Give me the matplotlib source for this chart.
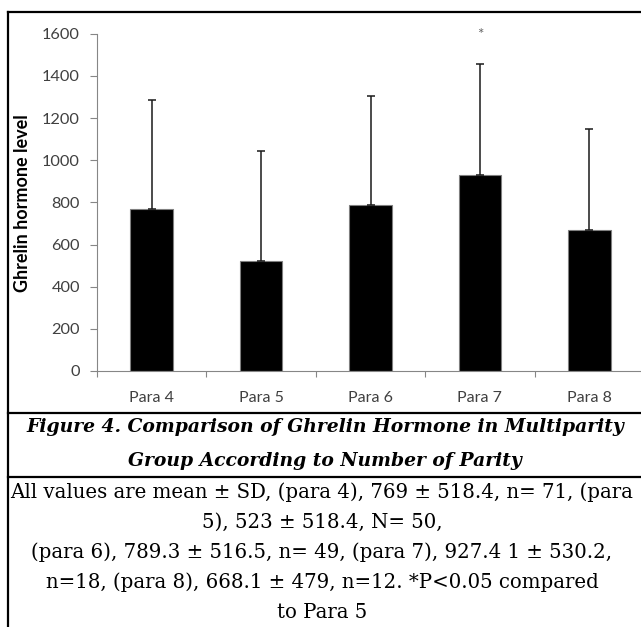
import matplotlib
matplotlib.use("Agg")
import matplotlib.pyplot as plt
from matplotlib.lines import Line2D
import numpy as np

categories = ["Para 4", "Para 5", "Para 6", "Para 7", "Para 8"]
means = [769, 523, 789.3, 927.4, 668.1]
sds = [518.4, 518.4, 516.5, 530.2, 479]
star_index = 3
star_level = 1595
y_ticks = [0, 200, 400, 600, 800, 1000, 1200, 1400, 1600]
y_label = "Ghrelin hormone level"
caption_lines = ["Figure 4. Comparison of Ghrelin Hormone in Multiparity",
                 "Group According to Number of Parity"]
note_lines = ["All values are mean \u00b1 SD, (para 4), 769 \u00b1 518.4, n= 71, (para",
              "5), 523 \u00b1 518.4, N= 50,",
              "(para 6), 789.3 \u00b1 516.5, n= 49, (para 7), 927.4 1 \u00b1 530.2,",
              "n=18, (para 8), 668.1 \u00b1 479, n=12. *P<0.05 compared",
              "to Para 5"]

W, H = 641, 627
fig = plt.figure(figsize=(W / 100, H / 100), dpi=100)

def fx(px):
    return px / W

def fy(py):
    return 1 - py / H

ax_left, ax_right, ax_top, ax_bottom = 97, 644, 33.7, 371
ax = fig.add_axes([fx(ax_left), fy(ax_bottom), (ax_right - ax_left) / W, (ax_bottom - ax_top) / H])
x = np.arange(len(categories))
ax.bar(x, means, width=0.39, color="black", edgecolor="#7f7f7f", linewidth=0.8, zorder=2)
ax.errorbar(x, means, yerr=[np.zeros(len(sds)), sds], fmt="none", ecolor="#1a1a1a",
            elinewidth=1.1, capsize=2.6, capthick=1.1, zorder=3)
ax.text(x[star_index], star_level, "*", ha="center", va="center", fontsize=11,
        color="#666666", family="Lato", clip_on=False)

ax.set_xlim(-0.5, len(categories) - 0.5)
ax.set_ylim(0, 1600)
ax.set_yticks(y_ticks)
ax.set_yticklabels([str(v) for v in y_ticks], family="Lato", fontsize=11.8, color="#404040")
ax.set_xticks(x)
ax.set_xticklabels(categories, family="Lato", fontsize=11.5, color="#404040")
ax.set_xticks(np.arange(-0.5, len(categories) + 0.5, 1), minor=True)
ax.tick_params(axis="x", which="major", length=0, pad=14.5)
ax.tick_params(axis="x", which="minor", length=4.5, width=0.8, color="#868686", direction="out")
ax.tick_params(axis="y", which="major", length=5, width=0.8, color="#868686", direction="out", pad=7.3)
for s in ["top", "right"]:
    ax.spines[s].set_visible(False)
for s in ["left", "bottom"]:
    ax.spines[s].set_color("#868686")
    ax.spines[s].set_linewidth(0.8)
ax.set_ylabel(y_label, family="Lato", fontweight="bold", fontsize=13, color="black")
ax.yaxis.set_label_coords(fx(31), fy(203), transform=fig.transFigure)

# frame lines
lw = 1.6
fig.add_artist(Line2D([fx(8), 1], [fy(12), fy(12)], transform=fig.transFigure, color="black", lw=lw))
fig.add_artist(Line2D([fx(8), fx(8)], [fy(12), 0], transform=fig.transFigure, color="black", lw=lw))
fig.add_artist(Line2D([fx(8), 1], [fy(413), fy(413)], transform=fig.transFigure, color="black", lw=lw))
fig.add_artist(Line2D([fx(8), 1], [fy(477), fy(477)], transform=fig.transFigure, color="black", lw=lw))

renderer = fig.canvas.get_renderer()

def fit_size(text, target_px, **kw):
    t = fig.text(0, 0, text, fontsize=10, **kw)
    w = t.get_window_extent(renderer=renderer).width
    t.remove()
    return 10 * target_px / w

cap_kw = dict(family="DejaVu Serif", fontweight="bold", style="italic")
note_kw = dict(family="DejaVu Serif")
cap_size = fit_size(caption_lines[0], 600, **cap_kw)
note_size = fit_size(note_lines[0], 622, **note_kw)

cx = fx(322)
for i, t in enumerate(caption_lines):
    fig.text(cx + fx(3), fy(427 + 34 * i), t, ha="center", va="center", fontsize=cap_size, **cap_kw)
for i, t in enumerate(note_lines):
    fig.text(cx, fy(492 + 30 * i), t, ha="center", va="center", fontsize=note_size, **note_kw)

fig.savefig("out.png", dpi=100)
